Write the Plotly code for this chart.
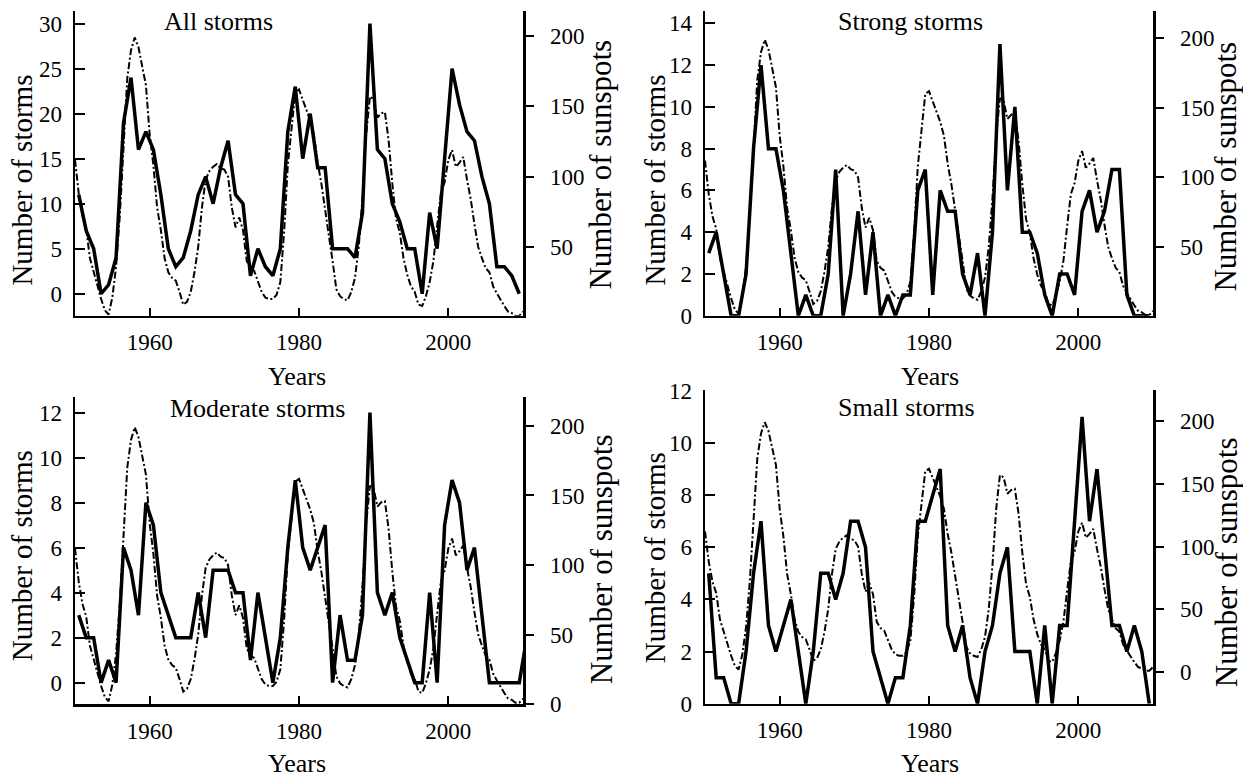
import plotly.graph_objects as go

# ---------------- data ----------------
years = list(range(1950, 2011))  # storm counts are annual (plotted mid-year)

all_storms = [11, 7, 5, 0, 1, 4, 19, 24, 16, 18,
              16, 11, 5, 3, 4, 7, 11, 13, 10, 14,
              17, 11, 10, 2, 5, 3, 2, 5, 18, 23,
              15, 20, 14, 14, 5, 5, 5, 4, 9, 30,
              16, 15, 10, 8, 5, 5, 0, 9, 5, 15,
              25, 21, 18, 17, 13, 10, 3, 3, 2, 0, None]

strong_storms = [3, 4, 2, 0, 0, 2, 8, 12, 8, 8,
                 6, 3, 0, 1, 0, 0, 2, 7, 0, 2,
                 5, 1, 4, 0, 1, 0, 1, 1, 6, 7,
                 1, 6, 5, 5, 2, 1, 3, 0, 4, 13,
                 6, 10, 4, 4, 3, 1, 0, 2, 2, 1,
                 5, 6, 4, 5, 7, 7, 1, 0, 0, 0, None]

moderate_storms = [3, 2, 2, 0, 1, 0, 6, 5, 3, 8,
                   7, 4, 3, 2, 2, 2, 4, 2, 5, 5,
                   5, 4, 4, 1, 4, 2, 0, 2, 6, 9,
                   6, 5, 6, 7, 0, 3, 1, 1, 3, 12,
                   4, 3, 4, 2, 1, 0, 0, 4, 0, 7,
                   9, 8, 5, 6, 3, 0, 0, 0, 0, 0, 2]

small_storms = [5, 1, 1, 0, 0, 2, 5, 7, 3, 2,
                3, 4, 2, 0, 2, 5, 5, 4, 5, 7,
                7, 6, 2, 1, 0, 1, 1, 3, 7, 7,
                8, 9, 3, 2, 3, 1, 0, 2, 3, 5,
                6, 2, 2, 2, 0, 3, 0, 3, 3, 7,
                11, 7, 9, 6, 3, 3, 2, 3, 2, 0, None]

# smoothed sunspot number, half-year steps 1950.0 ... 2010.0
sunspot_times = [1950 + 0.5 * i for i in range(121)]
sunspots = [112, 88, 72, 63, 42, 32, 22, 13, 5, 2,
            14, 36, 72, 120, 170, 190, 199, 192, 178, 165,
            130, 108, 78, 62, 42, 32, 28, 26, 18, 9,
            11, 18, 32, 50, 78, 98, 104, 107, 109, 106,
            105, 100, 78, 64, 71, 62, 40, 35, 33, 26,
            18, 14, 13, 13, 16, 25, 60, 108, 135, 160,
            162, 155, 148, 140, 130, 110, 95, 78, 58, 40,
            20, 15, 13, 12, 18, 28, 50, 85, 130, 157,
            155, 142, 145, 146, 126, 95, 70, 60, 42, 30,
            22, 18, 9, 8, 15, 25, 40, 65, 88, 96,
            112, 119, 107, 110, 114, 98, 84, 66, 50, 42,
            35, 32, 22, 17, 12, 8, 4, 3, 1, 1,
            4]

panel_titles = ["All storms", "Strong storms", "Moderate storms", "Small storms"]
storm_series = [all_storms, strong_storms, moderate_storms, small_storms]
x_ticks = [1960, 1980, 2000]
storm_ticks = [[0, 5, 10, 15, 20, 25, 30], [0, 2, 4, 6, 8, 10, 12, 14],
               [0, 2, 4, 6, 8, 10, 12], [0, 2, 4, 6, 8, 10, 12]]
sunspot_ticks = [0, 50, 100, 150, 200]

# ---------------- layout helpers (pixel geometry) ----------------
W, H = 1243, 778
# the captured picture maps the page vertically as  Y = TOP + SCALE * y
TOP, SPAN = 11.7, 752.8
def px_x(x):
    return x / W
def px_y(Y):
    return min(1.0, 1 - (Y - TOP) / SPAN)

# plot boxes in target pixels: (left, right, top, bottom)
boxes = [(75, 523, TOP, 316), (705, 1153, TOP, 316),
         (75, 523, 397, 704), (705, 1153, 390, 703.3)]

# axis calibration: pixel position of value 0 and pixels per unit
storm_cal = [(294.0, 8.99), (316.0, 20.86), (682.3, 22.47), (703.3, 26.03)]
sun_cal = [(317.5, 1.404), (316.7, 1.3885), (703.7, 1.3887), (671.7, 1.2535)]

def value_range(cal, top, bottom):
    p0, k = cal
    return [(p0 - bottom) / k, (p0 - top) / k]

FONT = "Liberation Serif"
tickfont = dict(family=FONT, size=23, color="black")

fig = go.Figure()
layout = dict(width=W, height=H, margin=dict(l=0, r=0, t=0, b=0),
              paper_bgcolor="white", plot_bgcolor="white", showlegend=False,
              font=dict(family=FONT, color="black"))

annotations = []
storm_x = [y + 0.5 for y in years]

for i in range(4):
    l, r, t, b = boxes[i]
    xa = "xaxis" if i == 0 else f"xaxis{i+1}"
    xref = "x" if i == 0 else f"x{i+1}"
    main_n = 2 * i + 1
    over_n = 2 * i + 2
    ya_main = "yaxis" if main_n == 1 else f"yaxis{main_n}"
    yref_main = "y" if main_n == 1 else f"y{main_n}"
    ya_over = f"yaxis{over_n}"
    yref_over = f"y{over_n}"

    layout[xa] = dict(domain=[px_x(l), px_x(r)], anchor=yref_main,
                      range=[1950, 2010], tickvals=x_ticks,
                      ticks="inside", ticklen=8, tickwidth=2, tickcolor="black",
                      showline=True, linewidth=2.5, linecolor="black",
                      showgrid=False, zeroline=False, tickfont=tickfont,
                      ticklabelstandoff=4)
    # main axis: sunspots on the right
    layout[ya_main] = dict(domain=[px_y(b), px_y(t)], anchor=xref, side="right",
                           range=value_range(sun_cal[i], t, b), tickvals=sunspot_ticks,
                           ticks="outside", ticklen=8, tickwidth=2, tickcolor="black",
                           showline=True, linewidth=2.5, linecolor="black",
                           showgrid=False, zeroline=False, tickfont=tickfont,
                           ticklabelstandoff=12)
    # overlay axis: storm counts on the left
    layout[ya_over] = dict(overlaying=yref_main, anchor=xref, side="left",
                           range=value_range(storm_cal[i], t, b), tickvals=storm_ticks[i],
                           ticks="inside", ticklen=10, tickwidth=2, tickcolor="black",
                           showline=True, linewidth=2.5, linecolor="black",
                           showgrid=False, zeroline=False, tickfont=tickfont,
                           ticklabelstandoff=6)

    fig.add_trace(go.Scatter(x=sunspot_times, y=sunspots, mode="lines",
                             line=dict(color="black", width=2.0, dash="7px,2.5px,2px,2.5px"),
                             xaxis=xref, yaxis=yref_main, hoverinfo="skip"))
    fig.add_trace(go.Scatter(x=storm_x, y=storm_series[i], mode="lines",
                             line=dict(color="black", width=3.5),
                             connectgaps=False,
                             xaxis=xref, yaxis=yref_over, hoverinfo="skip"))

# titles / axis labels as annotations at target pixel positions
title_pos = [(218, 22), (910, 22), (257, 409), (906, 408)]
for i, (tx, ty) in enumerate(title_pos):
    annotations.append(dict(text=panel_titles[i], x=px_x(tx), y=px_y(ty),
                            xref="paper", yref="paper", showarrow=False,
                            xanchor="center", yanchor="middle",
                            font=dict(family=FONT, size=26, color="black")))

years_pos = [(297, 377), (930, 377), (297, 763), (930, 763)]
for (tx, ty) in years_pos:
    annotations.append(dict(text="Years", x=px_x(tx), y=px_y(ty),
                            xref="paper", yref="paper", showarrow=False,
                            xanchor="center", yanchor="middle",
                            font=dict(family=FONT, size=26, color="black")))

left_title_pos = [(22, 181), (655, 181), (22, 556), (655, 558)]
for (tx, ty) in left_title_pos:
    annotations.append(dict(text="Number of storms", x=px_x(tx), y=px_y(ty),
                            xref="paper", yref="paper", showarrow=False,
                            textangle=-90, xanchor="center", yanchor="middle",
                            font=dict(family=FONT, size=29, color="black")))

right_title_pos = [(601, 165), (1226, 167), (601, 559), (1226, 562)]
for (tx, ty) in right_title_pos:
    annotations.append(dict(text="Number of sunspots", x=px_x(tx), y=px_y(ty),
                            xref="paper", yref="paper", showarrow=False,
                            textangle=-90, xanchor="center", yanchor="middle",
                            font=dict(family=FONT, size=31, color="black")))

layout["annotations"] = annotations
fig.update_layout(**layout)

# pin the graph to the top-left corner of the viewport; keep the page one screen tall
post_js = ("var gd=document.getElementById('{plot_id}');"
           "var h=document.documentElement.style;"
           "h.margin='0';h.padding='0';h.overflow='hidden';h.height='778px';"
           "var b=document.body.style;"
           "b.margin='0';b.padding='0';b.overflow='hidden';b.height='778px';"
           "b.fontSize='0';b.lineHeight='0';"
           "gd.style.position='fixed';gd.style.left='0px';gd.style.top='0px';"
           "gd.style.zIndex='10';")
fig.write_html("out.html", post_script=post_js,
               config={"displayModeBar": False, "staticPlot": True})
